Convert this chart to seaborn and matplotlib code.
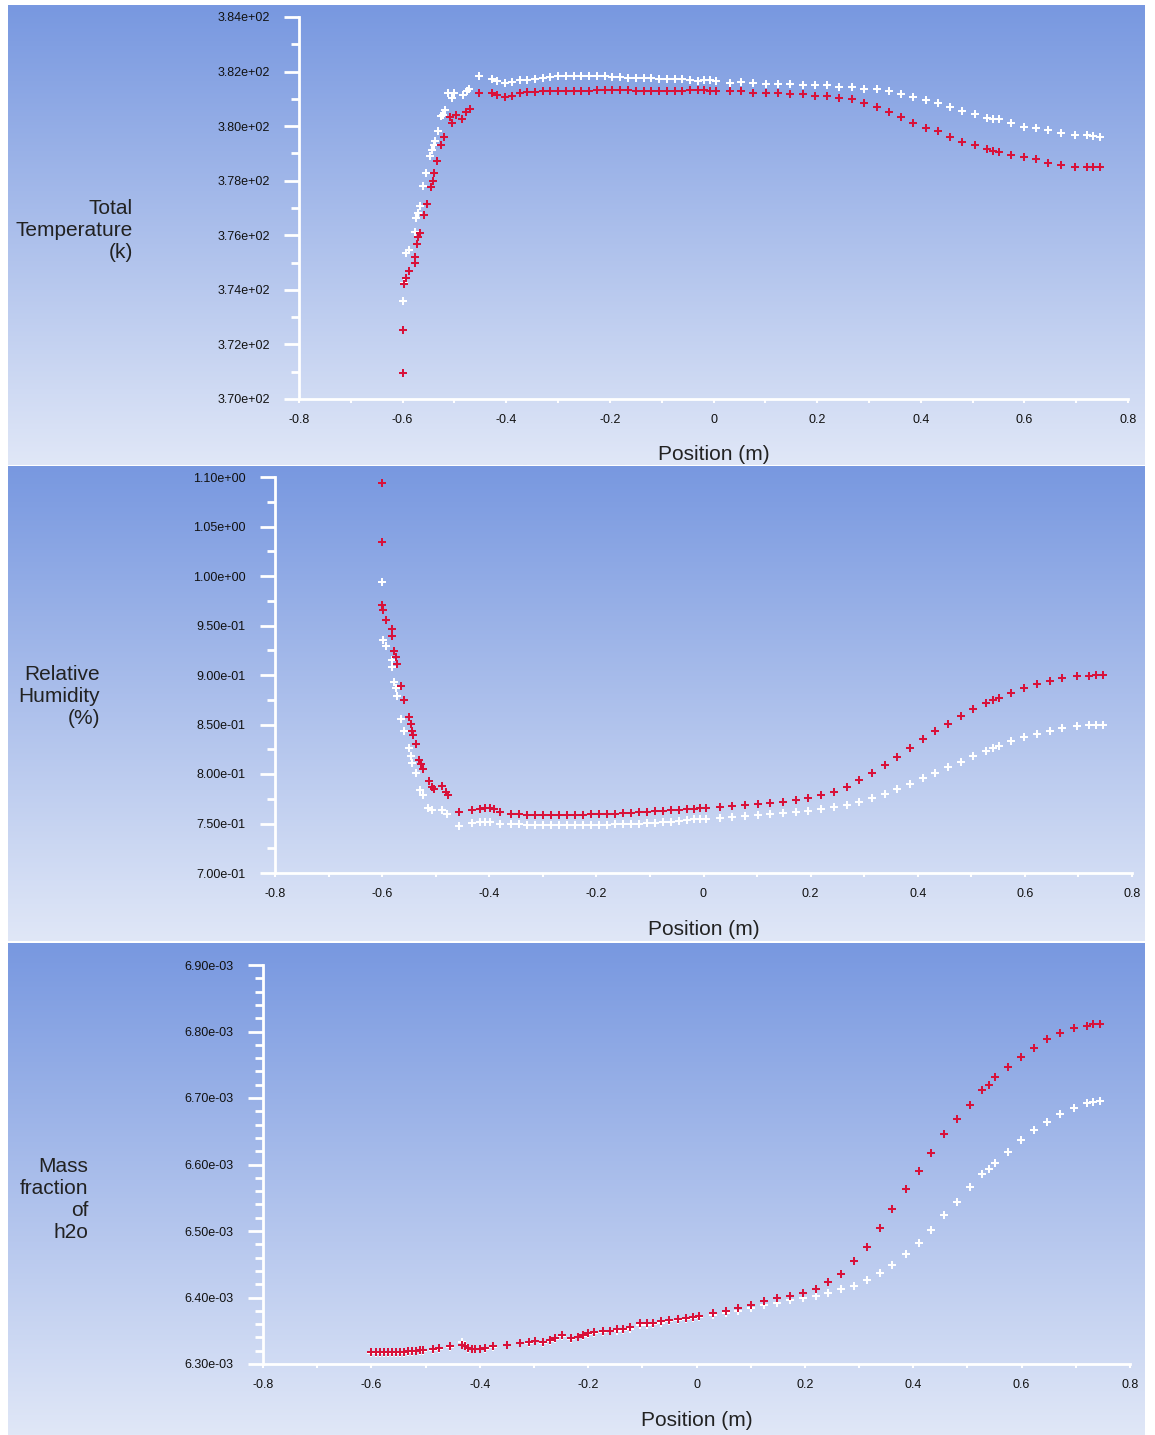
import numpy as np
import matplotlib
matplotlib.use("Agg")
import matplotlib.pyplot as plt
import seaborn as sns
from matplotlib.ticker import FixedLocator, MultipleLocator, FuncFormatter, FormatStrFormatter

# ---- shared node positions (m) ----
x_mid = [-0.360, -0.345, -0.330, -0.315, -0.300, -0.285, -0.270, -0.255, -0.240, -0.225,
         -0.210, -0.195, -0.180, -0.165, -0.150, -0.135, -0.120, -0.105, -0.090, -0.075,
         -0.060, -0.045, -0.030, -0.018, -0.007, 0.005]
x_right = [0.031, 0.054, 0.077, 0.101, 0.125, 0.148, 0.172, 0.196, 0.220, 0.243, 0.267,
           0.291, 0.315, 0.338, 0.361, 0.386, 0.410, 0.433, 0.457, 0.480, 0.504, 0.527,
           0.540, 0.551, 0.575, 0.599, 0.623, 0.646, 0.670, 0.697, 0.720, 0.732, 0.745]

# ---- total temperature (K) ----
temp_x_red_left = [-0.600, -0.600, -0.597, -0.593, -0.587, -0.577, -0.577, -0.573, -0.570, -0.566,
                   -0.559, -0.553, -0.546, -0.542, -0.539, -0.533, -0.526, -0.520, -0.508, -0.505,
                   -0.497, -0.486, -0.478, -0.470, -0.453, -0.428, -0.418, -0.402, -0.389, -0.373]
temp_red_left = [370.95, 372.53, 374.20, 374.42, 374.70, 375.00, 375.19, 375.68, 375.95, 376.09,
                 376.73, 377.15, 377.78, 378.00, 378.29, 378.73, 379.31, 379.59, 380.35, 380.10,
                 380.41, 380.25, 380.53, 380.62, 381.22, 381.22, 381.15, 381.05, 381.10, 381.22]
temp_red_mid = [381.24, 381.26, 381.27, 381.28, 381.29, 381.29, 381.30, 381.30, 381.30, 381.31,
                381.31, 381.31, 381.31, 381.31, 381.30, 381.30, 381.30, 381.30, 381.30, 381.30,
                381.30, 381.31, 381.31, 381.31, 381.30, 381.30]
temp_red_right = [381.27, 381.27, 381.22, 381.22, 381.22, 381.18, 381.18, 381.10, 381.10, 381.03,
                  380.98, 380.84, 380.71, 380.52, 380.32, 380.13, 379.93, 379.81, 379.61, 379.42,
                  379.30, 379.15, 379.10, 379.05, 378.95, 378.86, 378.78, 378.66, 378.59, 378.51,
                  378.51, 378.51, 378.51]
temp_x_white_left = [-0.600, -0.597, -0.593, -0.587, -0.577, -0.574, -0.570, -0.566, -0.560, -0.555,
                     -0.547, -0.543, -0.540, -0.537, -0.532, -0.526, -0.523, -0.519, -0.512, -0.505,
                     -0.501, -0.484, -0.476, -0.472, -0.453, -0.428, -0.418, -0.402, -0.389, -0.373]
temp_white_left = [373.60, 374.25, 375.34, 375.46, 376.13, 376.62, 376.80, 377.07, 377.80, 378.27,
                   378.90, 379.12, 379.31, 379.44, 379.83, 380.37, 380.40, 380.59, 381.20, 381.02,
                   381.20, 381.15, 381.30, 381.35, 381.84, 381.71, 381.66, 381.59, 381.62, 381.69]
temp_white_mid = [381.70, 381.74, 381.78, 381.80, 381.82, 381.82, 381.82, 381.83, 381.83, 381.82,
                  381.82, 381.80, 381.79, 381.77, 381.76, 381.76, 381.75, 381.74, 381.74, 381.73,
                  381.71, 381.69, 381.67, 381.68, 381.68, 381.66]
temp_white_right = [381.59, 381.62, 381.59, 381.54, 381.54, 381.54, 381.49, 381.49, 381.49, 381.42,
                    381.42, 381.35, 381.35, 381.27, 381.18, 381.08, 380.96, 380.84, 380.71, 380.56,
                    380.44, 380.30, 380.25, 380.25, 380.13, 379.98, 379.93, 379.86, 379.74, 379.69,
                    379.69, 379.65, 379.61]

# ---- relative humidity ----
rh_x_red_left = [-0.600, -0.600, -0.600, -0.599, -0.592, -0.582, -0.582, -0.578, -0.574, -0.572,
                 -0.564, -0.559, -0.550, -0.547, -0.544, -0.543, -0.537, -0.532, -0.528, -0.524,
                 -0.512, -0.507, -0.504, -0.489, -0.481, -0.477, -0.457, -0.433, -0.417, -0.408,
                 -0.399, -0.392, -0.380]
rh_red_left = [1.0936, 1.034, 0.971, 0.966, 0.956, 0.946, 0.939, 0.924, 0.918, 0.911,
               0.889, 0.875, 0.858, 0.851, 0.843, 0.839, 0.830, 0.814, 0.810, 0.805,
               0.793, 0.787, 0.785, 0.788, 0.782, 0.779, 0.762, 0.764, 0.765, 0.766,
               0.766, 0.765, 0.762]
rh_red_mid = [0.760, 0.760, 0.759, 0.759, 0.759, 0.759, 0.759, 0.759, 0.759, 0.759,
              0.760, 0.760, 0.760, 0.760, 0.761, 0.761, 0.762, 0.762, 0.763, 0.763,
              0.764, 0.764, 0.765, 0.765, 0.766, 0.766]
rh_red_right = [0.767, 0.768, 0.769, 0.770, 0.771, 0.772, 0.774, 0.776, 0.779, 0.782, 0.787,
                0.794, 0.801, 0.809, 0.817, 0.826, 0.835, 0.843, 0.851, 0.859, 0.866, 0.872,
                0.875, 0.877, 0.882, 0.887, 0.891, 0.894, 0.897, 0.899, 0.899, 0.900, 0.900]
rh_x_white_left = [-0.600, -0.598, -0.592, -0.582, -0.582, -0.578, -0.575, -0.572, -0.564, -0.559,
                   -0.550, -0.547, -0.544, -0.537, -0.530, -0.524, -0.514, -0.507, -0.489, -0.479,
                   -0.457, -0.433, -0.417, -0.408, -0.399, -0.380]
rh_white_left = [0.994, 0.935, 0.929, 0.915, 0.908, 0.893, 0.887, 0.879, 0.856, 0.843,
                 0.826, 0.818, 0.811, 0.801, 0.784, 0.779, 0.766, 0.764, 0.764, 0.760,
                 0.7475, 0.751, 0.752, 0.752, 0.752, 0.750]
rh_white_mid = [0.7495, 0.749, 0.748, 0.748, 0.748, 0.748, 0.748, 0.748, 0.748, 0.748,
                0.748, 0.7485, 0.7485, 0.749, 0.750, 0.750, 0.750, 0.751, 0.751, 0.752,
                0.752, 0.753, 0.754, 0.7545, 0.755, 0.755]
rh_white_right = [0.756, 0.757, 0.758, 0.759, 0.760, 0.761, 0.762, 0.763, 0.765, 0.767, 0.769,
                  0.772, 0.776, 0.780, 0.785, 0.790, 0.796, 0.801, 0.807, 0.812, 0.818, 0.823,
                  0.826, 0.828, 0.833, 0.837, 0.840, 0.843, 0.846, 0.848, 0.850, 0.850, 0.850]

# ---- mass fraction of h2o (in units of 1e-3) ----
mf_x_left = [-0.600, -0.592, -0.585, -0.577, -0.570, -0.562, -0.555, -0.547, -0.540, -0.532,
             -0.525, -0.517, -0.510, -0.505, -0.486, -0.476, -0.455, -0.433, -0.428, -0.422,
             -0.415, -0.408, -0.400, -0.390, -0.375, -0.350, -0.326, -0.310, -0.298, -0.283,
             -0.270, -0.261, -0.249, -0.231, -0.218, -0.209, -0.200, -0.190, -0.172, -0.160,
             -0.147, -0.135, -0.123, -0.104, -0.092, -0.080, -0.065, -0.050, -0.035, -0.020,
             -0.007, 0.005]
mf_red_left = [6.318, 6.318, 6.318, 6.318, 6.318, 6.318, 6.318, 6.318, 6.318, 6.319,
               6.319, 6.320, 6.321, 6.321, 6.322, 6.3236, 6.327, 6.329, 6.327, 6.324,
               6.323, 6.323, 6.323, 6.324, 6.327, 6.3286, 6.332, 6.3335, 6.335, 6.333,
               6.336, 6.3386, 6.3436, 6.3386, 6.341, 6.3436, 6.347, 6.3486, 6.350, 6.350,
               6.352, 6.352, 6.355, 6.361, 6.361, 6.362, 6.364, 6.366, 6.368, 6.369,
               6.371, 6.372]
mf_white_left = [6.317, 6.317, 6.317, 6.317, 6.317, 6.317, 6.317, 6.317, 6.317, 6.318,
                 6.318, 6.319, 6.320, 6.320, 6.321, 6.323, 6.326, 6.3335, 6.328, 6.323,
                 6.322, 6.322, 6.322, 6.323, 6.326, 6.328, 6.331, 6.332, 6.334, 6.332,
                 6.335, 6.337, 6.342, 6.337, 6.340, 6.342, 6.345, 6.347, 6.348, 6.349,
                 6.350, 6.351, 6.353, 6.358, 6.359, 6.360, 6.362, 6.364, 6.366, 6.367,
                 6.369, 6.370]
mf_red_right = [6.376, 6.380, 6.384, 6.389, 6.394, 6.399, 6.402, 6.407, 6.413, 6.424, 6.435,
                6.4545, 6.476, 6.504, 6.533, 6.563, 6.590, 6.618, 6.646, 6.668, 6.690, 6.712,
                6.7195, 6.731, 6.747, 6.761, 6.7756, 6.789, 6.798, 6.806, 6.809, 6.812, 6.811]
mf_white_right = [6.373, 6.376, 6.380, 6.384, 6.388, 6.392, 6.396, 6.400, 6.402, 6.407, 6.413,
                  6.418, 6.427, 6.437, 6.449, 6.465, 6.482, 6.5015, 6.5236, 6.5436, 6.5657, 6.5857,
                  6.5928, 6.6018, 6.619, 6.637, 6.652, 6.6646, 6.676, 6.6845, 6.692, 6.694, 6.696]

# ---- axis ticks ----
x_ticks = [-0.8, -0.6, -0.4, -0.2, 0.0, 0.2, 0.4, 0.6, 0.8]
temp_ticks = [370, 372, 374, 376, 378, 380, 382, 384]
rh_ticks = [0.70, 0.75, 0.80, 0.85, 0.90, 0.95, 1.00, 1.05, 1.10]
mf_ticks = [6.30e-3, 6.40e-3, 6.50e-3, 6.60e-3, 6.70e-3, 6.80e-3, 6.90e-3]

plt.rcParams['font.family'] = ['Liberation Sans', 'DejaVu Sans']

W, H = 1155, 1435
fig = plt.figure(figsize=(W / 100, H / 100), dpi=100)


def px_rect(l, t, r, b):
    return [l / W, 1 - b / H, (r - l) / W, (b - t) / H]


top_rgb = np.array([120, 152, 224]) / 255
bot_rgb = np.array([224, 231, 247]) / 255
grad = (np.linspace(0, 1, 256)[:, None] * (bot_rgb - top_rgb) + top_rgb)[:, None, :]

red = "#d8123a"

panels = [
    dict(bg=(8, 5, 1145, 465), box=(299, 17, 1128, 399),
         xw=temp_x_white_left + x_mid + x_right, yw=temp_white_left + temp_white_mid + temp_white_right,
         xr=temp_x_red_left + x_mid + x_right, yr=temp_red_left + temp_red_mid + temp_red_right,
         scale=1, ticks=temp_ticks, minor=1, label="Total\nTemperature\n(k)", lab=(133, 230), xl=455),
    dict(bg=(8, 466, 1145, 941), box=(275, 477, 1132, 873),
         xw=rh_x_white_left + x_mid + x_right, yw=rh_white_left + rh_white_mid + rh_white_right,
         xr=rh_x_red_left + x_mid + x_right, yr=rh_red_left + rh_red_mid + rh_red_right,
         scale=1, ticks=rh_ticks, minor=0.025, label="Relative\nHumidity\n(%)", lab=(100, 697), xl=930),
    dict(bg=(8, 943, 1145, 1435), box=(263, 965, 1130, 1364),
         xw=mf_x_left + x_right, yw=mf_white_left + mf_white_right,
         xr=mf_x_left + x_right, yr=mf_red_left + mf_red_right,
         scale=1e-3, ticks=mf_ticks, minor=0.02e-3, label="Mass\nfraction\nof\nh2o", lab=(88, 1199), xl=1421),
]

for p in panels:
    bg = fig.add_axes(px_rect(*p["bg"]))
    bg.imshow(grad, aspect="auto", extent=[0, 1, 0, 1], interpolation="bilinear")
    bg.axis("off")
    bg.set_zorder(0)

    l, t, r, b = p["box"]
    ax = fig.add_axes(px_rect(l, t, r, b))
    ax.set_zorder(1)
    ax.patch.set_alpha(0)

    sns.scatterplot(x=p["xw"], y=np.array(p["yw"]) * p["scale"], ax=ax, color="white",
                    marker="P", s=36, linewidth=0, legend=False)
    sns.scatterplot(x=p["xr"], y=np.array(p["yr"]) * p["scale"], ax=ax, color=red,
                    marker="P", s=36, linewidth=0, legend=False)

    ax.set_xlim(-0.8, 0.8)
    ax.set_ylim(p["ticks"][0], p["ticks"][-1])
    ax.xaxis.set_major_locator(FixedLocator(x_ticks))
    ax.xaxis.set_minor_locator(MultipleLocator(0.1))
    ax.xaxis.set_major_formatter(FuncFormatter(lambda v, pos: "0" if abs(v) < 1e-9 else "%.1f" % v))
    ax.yaxis.set_major_locator(FixedLocator(p["ticks"]))
    ax.yaxis.set_minor_locator(MultipleLocator(p["minor"]))
    ax.yaxis.set_major_formatter(FormatStrFormatter("%.2e"))

    for side in ["top", "right"]:
        ax.spines[side].set_visible(False)
    for side in ["left", "bottom"]:
        ax.spines[side].set_color("white")
        ax.spines[side].set_linewidth(2)

    ax.tick_params(axis="y", which="major", length=11, width=2, color="white", pad=10,
                   labelsize=9, labelcolor="#111111")
    ax.tick_params(axis="y", which="minor", length=6, width=2, color="white")
    ax.tick_params(axis="x", which="both", length=3, width=1.5, color="white", pad=8,
                   labelsize=9, labelcolor="#111111")

    ax.set_xlabel("Position (m)", fontsize=15, color="#222222")
    ax.xaxis.label.set_va("center")
    ax.xaxis.set_label_coords(0.5, -(p["xl"] - b) / (b - t))

    ax.set_ylabel(p["label"], rotation=0, ha="right", va="center", multialignment="right",
                  fontsize=15, color="#222222", linespacing=1.2)
    lx, ly = p["lab"]
    ax.yaxis.set_label_coords((lx - l) / (r - l), (b - ly) / (b - t))

fig.savefig("out.png", dpi=100)
